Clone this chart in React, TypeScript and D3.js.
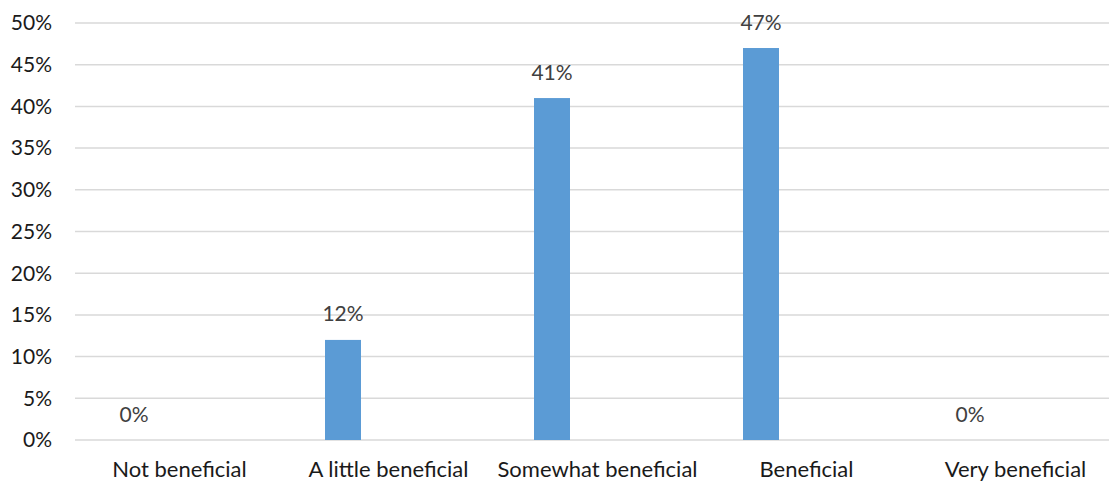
import React from "react";
import * as d3 from "d3";

const categories = ["Not beneficial", "A little beneficial", "Somewhat beneficial", "Beneficial", "Very beneficial"];
const values = [0, 12, 41, 47, 0];
const yTicks = [0, 5, 10, 15, 20, 25, 30, 35, 40, 45, 50];

const W = 1109;
const H = 481;
const plotLeft = 75;
const plotRight = 1120;
const plotTop = 23;
const plotBottom = 440;
const barWidth = 36;
const barOffset = 41;
const font = "Lato, 'Open Sans', sans-serif";

export default function App() {
  const x = d3.scaleBand<string>().domain(categories).range([plotLeft, plotRight]).padding(0);
  const y = d3.scaleLinear().domain([0, 50]).range([plotBottom, plotTop]);

  return (
    <svg
      width={W}
      height={H}
      style={{ position: "absolute", left: 0, top: 0, background: "#fff" }}
      fontFamily={font}
    >
      {yTicks.map((t) => (
        <g key={t}>
          <line x1={plotLeft} x2={plotRight} y1={y(t)} y2={y(t)} stroke="#d9d9d9" strokeWidth={1.5} />
          <text x={52} y={y(t)} dy="0.35em" textAnchor="end" fontSize={21} fill="#1a1a1a">
            {t}%
          </text>
        </g>
      ))}
      {categories.map((c, i) => {
        const bx = (x(c) as number) + barOffset;
        const v = values[i];
        return (
          <g key={c}>
            {v > 0 && (
              <rect x={bx} y={y(v)} width={barWidth} height={y(0) - y(v)} fill="#5b9bd5" />
            )}
            <text x={bx + barWidth / 2} y={y(v) - 18.5} textAnchor="middle" fontSize={21} fill="#404040">
              {v}%
            </text>
            <text
              x={(x(c) as number) + x.bandwidth() / 2}
              y={477}
              textAnchor="middle"
              fontSize={22}
              fill="#1a1a1a"
            >
              {c}
            </text>
          </g>
        );
      })}
    </svg>
  );
}
